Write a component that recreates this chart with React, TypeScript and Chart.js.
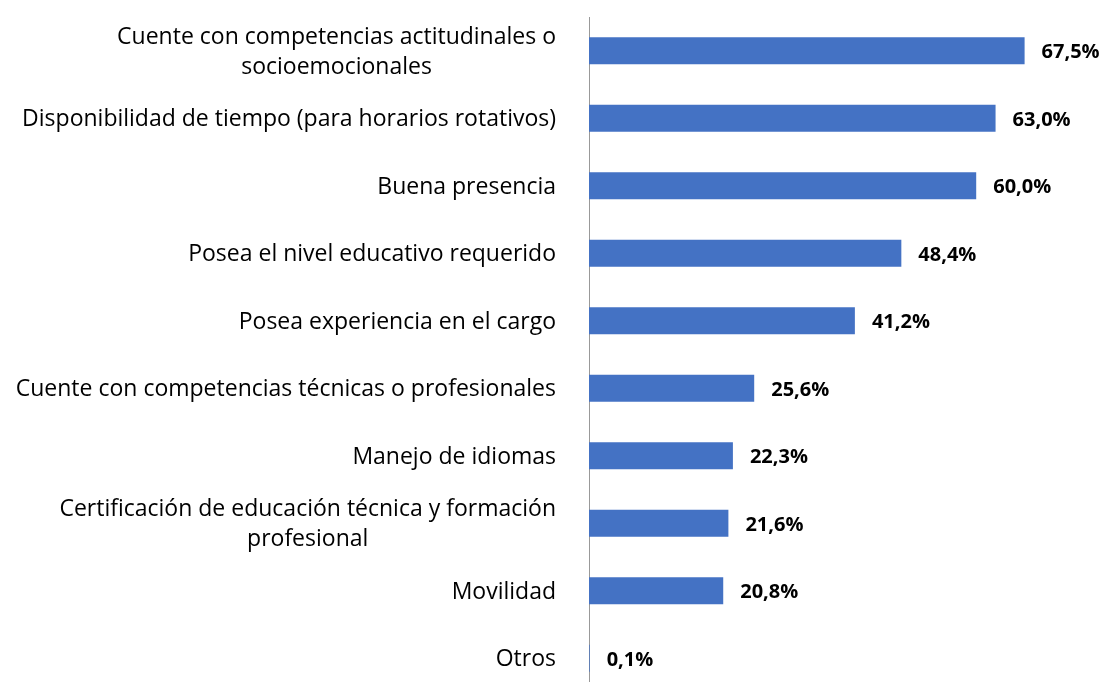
import React, { useEffect, useRef } from "react";
import { Chart, registerables } from "chart.js";

Chart.register(...registerables);

const categories: string[][] = [
  ["Cuente con competencias actitudinales o", "socioemocionales"],
  ["Disponibilidad de tiempo (para horarios rotativos)"],
  ["Buena presencia"],
  ["Posea el nivel educativo requerido"],
  ["Posea experiencia en el cargo"],
  ["Cuente con competencias técnicas o profesionales"],
  ["Manejo de idiomas"],
  ["Certificación de educación técnica y formación", "profesional"],
  ["Movilidad"],
  ["Otros"],
];

const values: number[] = [67.5, 63.0, 60.0, 48.4, 41.2, 25.6, 22.3, 21.6, 20.8, 0.1];

const BAR_COLOR = "#4472C4";
const LABEL_FONT = "23px 'Open Sans'";
const VALUE_FONT = "bold 20px 'Open Sans'";
const LINE_H = 30;

const fmt = (v: number) => v.toFixed(1).replace(".", ",") + "%";

const labelPlugin = {
  id: "customLabels",
  afterDraw(chart: any) {
    const ctx = chart.ctx as CanvasRenderingContext2D;
    const yScale = chart.scales.y;
    const right = chart.chartArea.left - 33;
    ctx.save();
    ctx.fillStyle = "#000";
    ctx.textBaseline = "middle";
    ctx.font = LABEL_FONT;
    ctx.textAlign = "center";
    categories.forEach((lines, i) => {
      const cy = yScale.getPixelForValue(i) + 1.5;
      const bw = Math.max(...lines.map((l) => ctx.measureText(l).width));
      const cx = right - bw / 2;
      lines.forEach((l, j) => {
        ctx.fillText(l, cx, cy + (j - (lines.length - 1) / 2) * LINE_H);
      });
    });
    ctx.font = VALUE_FONT;
    ctx.textAlign = "left";
    const meta = chart.getDatasetMeta(0);
    meta.data.forEach((bar: any, i: number) => {
      ctx.fillText(fmt(values[i]), bar.x + 17, bar.y + 2);
    });
    ctx.restore();
  },
};

export default function App() {
  const canvasRef = useRef<HTMLCanvasElement | null>(null);

  useEffect(() => {
    if (!canvasRef.current) return;
    const chart = new Chart(canvasRef.current, {
      type: "bar",
      data: {
        labels: categories.map((c) => c.join(" ")),
        datasets: [
          {
            data: values,
            backgroundColor: BAR_COLOR,
            borderWidth: 0,
            barPercentage: 0.4,
            categoryPercentage: 1,
          },
        ],
      },
      options: {
        indexAxis: "y",
        responsive: false,
        animation: false,
        layout: { padding: { top: 17, bottom: 8, right: 30, left: 0 } },
        plugins: {
          legend: { display: false },
          tooltip: { enabled: false },
        },
        scales: {
          x: {
            display: false,
            min: 0,
            max: 75,
          },
          y: {
            ticks: { display: false },
            grid: { display: false, drawTicks: false },
            border: { display: true, color: "#999999", width: 1 },
            afterFit(scale: any) {
              scale.width = 589;
            },
          },
        },
      },
      plugins: [labelPlugin],
    });
    return () => chart.destroy();
  }, []);

  return (
    <div
      style={{
        position: "fixed",
        left: 0,
        top: 0,
        width: 1103,
        height: 682,
        overflow: "hidden",
        background: "#fff",
      }}
    >
      <canvas ref={canvasRef} width={1103} height={700} style={{ display: "block" }} />
    </div>
  );
}
